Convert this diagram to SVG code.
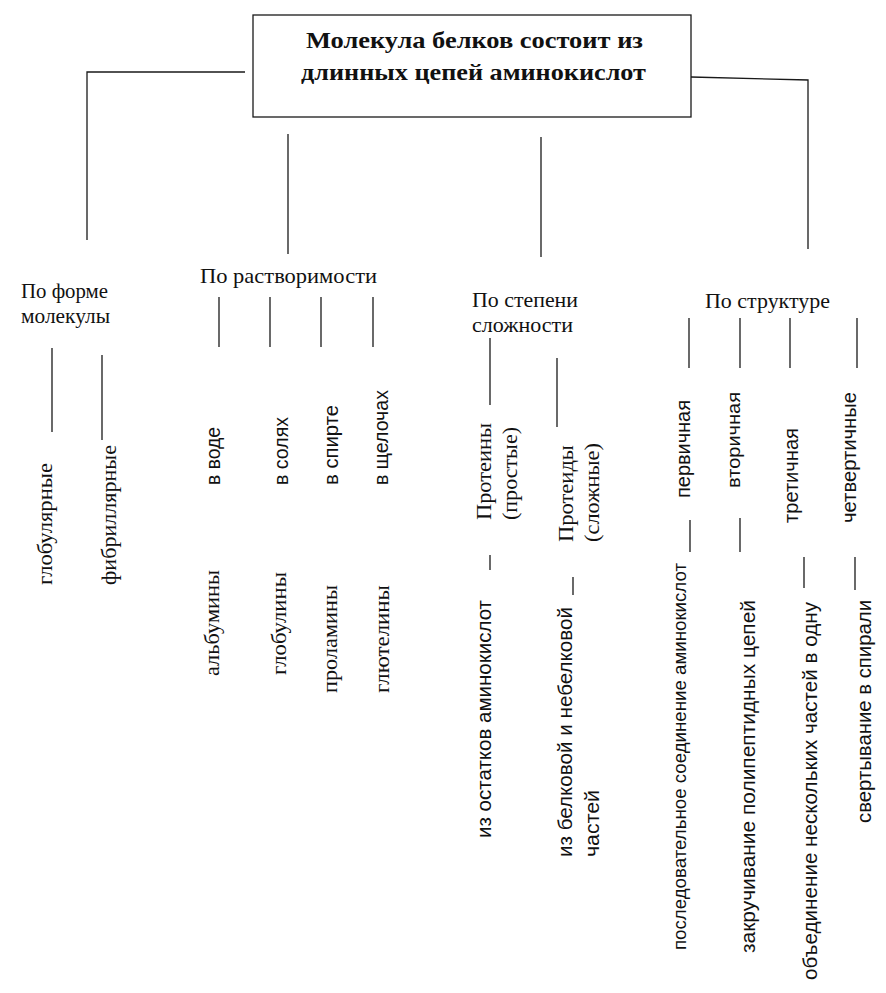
<svg xmlns="http://www.w3.org/2000/svg" width="886" height="993" viewBox="0 0 886 993">
<style>
.ln{stroke:#1a1a1a;stroke-width:1.3;fill:none}
.se{font-family:"Liberation Serif","Times New Roman",serif;font-size:22px;fill:#111}
.sa{font-family:"Liberation Sans",Arial,sans-serif;font-size:20px;fill:#111}
.tt{font-family:"Liberation Serif","Times New Roman",serif;font-size:24px;font-weight:bold;fill:#111}
</style>
<rect width="886" height="993" fill="#fff"/>
<g id="connectors">
<polyline class="ln" points="245,72 87,72 87,240"/>
<polyline class="ln" points="691,77 808,80 808,249"/>
<line class="ln" x1="288" y1="134" x2="288" y2="254"/>
<line class="ln" x1="541" y1="137" x2="541" y2="257"/>
<line class="ln" x1="52" y1="348" x2="52" y2="432"/>
<line class="ln" x1="102" y1="355" x2="102" y2="440"/>
<line class="ln" x1="219" y1="297" x2="219" y2="347"/>
<line class="ln" x1="270" y1="297" x2="270" y2="347"/>
<line class="ln" x1="321" y1="297" x2="321" y2="347"/>
<line class="ln" x1="373" y1="297" x2="373" y2="347"/>
<line class="ln" x1="490" y1="338" x2="490" y2="405"/>
<line class="ln" x1="557" y1="358" x2="557" y2="427"/>
<line class="ln" x1="689" y1="318" x2="689" y2="368"/>
<line class="ln" x1="740" y1="318" x2="740" y2="368"/>
<line class="ln" x1="790" y1="318" x2="790" y2="368"/>
<line class="ln" x1="857" y1="318" x2="857" y2="368"/>
<line class="ln" x1="490" y1="555" x2="490" y2="570"/>
<line class="ln" x1="573" y1="577" x2="573" y2="595"/>
<line class="ln" x1="690" y1="520" x2="690" y2="552"/>
<line class="ln" x1="740" y1="518" x2="740" y2="552"/>
<line class="ln" x1="804" y1="557" x2="804" y2="588"/>
<line class="ln" x1="855" y1="557" x2="855" y2="590"/>
</g>
<g id="root">
<rect class="ln" x="253" y="15" width="438" height="102"/>
<text class="tt" x="306" y="48" textLength="337" lengthAdjust="spacingAndGlyphs">Молекула белков состоит из</text>
<text class="tt" x="301" y="80" textLength="345" lengthAdjust="spacingAndGlyphs">длинных цепей аминокислот</text>
</g>
<g id="cat-form">
<text class="se" x="21" y="298" textLength="87" lengthAdjust="spacingAndGlyphs">По форме</text>
<text class="se" x="21" y="323" textLength="89" lengthAdjust="spacingAndGlyphs">молекулы</text>
</g>
<g id="cat-solubility">
<text class="se" x="200" y="283" textLength="177" lengthAdjust="spacingAndGlyphs">По растворимости</text>
</g>
<g id="cat-complexity">
<text class="se" x="472" y="307" textLength="106" lengthAdjust="spacingAndGlyphs">По степени</text>
<text class="se" x="472" y="332" textLength="101" lengthAdjust="spacingAndGlyphs">сложности</text>
</g>
<g id="cat-structure">
<text class="se" x="705" y="308" textLength="125" lengthAdjust="spacingAndGlyphs">По структуре</text>
</g>
<g id="form-globular">
<text class="se" transform="translate(52,585) rotate(-90)" textLength="122" lengthAdjust="spacingAndGlyphs">глобулярные</text>
</g>
<g id="form-fibrillar">
<text class="se" transform="translate(116,585) rotate(-90)" textLength="140" lengthAdjust="spacingAndGlyphs">фибриллярные</text>
</g>
<g id="sol-water">
<text class="sa" transform="translate(220,485) rotate(-90)" textLength="58" lengthAdjust="spacingAndGlyphs">в воде</text>
<text class="se" transform="translate(219,676) rotate(-90)" textLength="106" lengthAdjust="spacingAndGlyphs">альбумины</text>
</g>
<g id="sol-salts">
<text class="sa" transform="translate(288,485) rotate(-90)" textLength="68" lengthAdjust="spacingAndGlyphs">в солях</text>
<text class="se" transform="translate(286,675) rotate(-90)" textLength="103" lengthAdjust="spacingAndGlyphs">глобулины</text>
</g>
<g id="sol-alcohol">
<text class="sa" transform="translate(338,485) rotate(-90)" textLength="80" lengthAdjust="spacingAndGlyphs">в спирте</text>
<text class="se" transform="translate(337,693) rotate(-90)" textLength="108" lengthAdjust="spacingAndGlyphs">проламины</text>
</g>
<g id="sol-alkali">
<text class="sa" transform="translate(388,485) rotate(-90)" textLength="95" lengthAdjust="spacingAndGlyphs">в щелочах</text>
<text class="se" transform="translate(389,693) rotate(-90)" textLength="108" lengthAdjust="spacingAndGlyphs">глютелины</text>
</g>
<g id="cx-proteins">
<text class="se" transform="translate(491,520) rotate(-90)" textLength="97" lengthAdjust="spacingAndGlyphs">Протеины</text>
<text class="se" transform="translate(517,520) rotate(-90)" textLength="93" lengthAdjust="spacingAndGlyphs">(простые)</text>
<text class="sa" transform="translate(491,838) rotate(-90)" textLength="238" lengthAdjust="spacingAndGlyphs">из остатков аминокислот</text>
</g>
<g id="cx-proteids">
<text class="se" transform="translate(573,542) rotate(-90)" textLength="97" lengthAdjust="spacingAndGlyphs">Протеиды</text>
<text class="se" transform="translate(599,542) rotate(-90)" textLength="99" lengthAdjust="spacingAndGlyphs">(сложные)</text>
<text class="sa" transform="translate(572,857) rotate(-90)" textLength="250" lengthAdjust="spacingAndGlyphs">из белковой и небелковой</text>
<text class="sa" transform="translate(599,857) rotate(-90)" textLength="67" lengthAdjust="spacingAndGlyphs">частей</text>
</g>
<g id="st-primary">
<text class="sa" transform="translate(690,498) rotate(-90)" textLength="98" lengthAdjust="spacingAndGlyphs">первичная</text>
<text class="sa" style="font-size:18px" transform="translate(686,950) rotate(-90)" textLength="387" lengthAdjust="spacingAndGlyphs">последовательное соединение аминокислот</text>
</g>
<g id="st-secondary">
<text class="sa" style="font-size:19px" transform="translate(740,488) rotate(-90)" textLength="96" lengthAdjust="spacingAndGlyphs">вторичная</text>
<text class="sa" transform="translate(755,953) rotate(-90)" textLength="353" lengthAdjust="spacingAndGlyphs">закручивание полипептидных цепей</text>
</g>
<g id="st-tertiary">
<text class="sa" transform="translate(798,523) rotate(-90)" textLength="95" lengthAdjust="spacingAndGlyphs">третичная</text>
<text class="sa" transform="translate(817,980) rotate(-90)" textLength="378" lengthAdjust="spacingAndGlyphs">объединение нескольких частей в одну</text>
</g>
<g id="st-quaternary">
<text class="sa" transform="translate(856,523) rotate(-90)" textLength="131" lengthAdjust="spacingAndGlyphs">четвертичные</text>
<text class="sa" transform="translate(871,823) rotate(-90)" textLength="223" lengthAdjust="spacingAndGlyphs">свертывание в спирали</text>
</g>
</svg>
